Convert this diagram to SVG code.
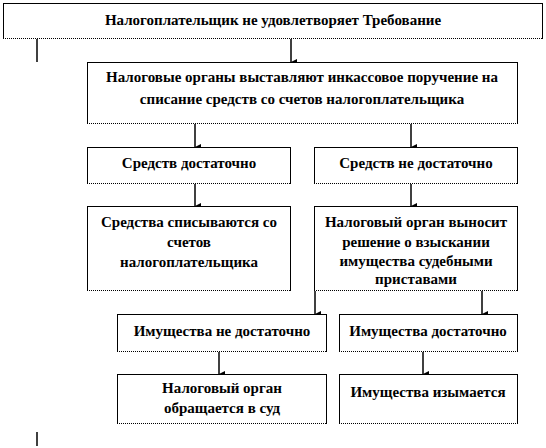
<svg xmlns="http://www.w3.org/2000/svg" width="546" height="448" viewBox="0 0 546 448">
<defs>
<style>
.box{fill:#fff;stroke:#000;stroke-width:1}
.dot{stroke:#fff;stroke-width:1.2;stroke-dasharray:1 1}
.t{font-family:"Liberation Serif","Times New Roman",serif;font-weight:bold;font-size:15px;fill:#000;text-anchor:middle}
.c{stroke:#000;stroke-width:1.5;fill:none}
.a{marker-end:url(#arr)}
</style>
<marker id="arr" markerWidth="6" markerHeight="6" refX="3" refY="6" orient="auto" markerUnits="userSpaceOnUse" viewBox="0 0 6 6">
<path d="M0,0 L6,0 L3,6 Z" fill="#000"/>
</marker>
</defs>
<g id="connectors">
<line class="c" x1="37" y1="38" x2="37" y2="62"/>
<line class="c a" x1="291" y1="38" x2="291" y2="62"/>
<line class="c a" x1="195" y1="123" x2="195" y2="147"/>
<line class="c a" x1="411" y1="123" x2="411" y2="147"/>
<line class="c a" x1="195" y1="183" x2="195" y2="206"/>
<line class="c a" x1="411" y1="183" x2="411" y2="206"/>
<line class="c a" x1="315" y1="290" x2="315" y2="314"/>
<line class="c a" x1="482" y1="290" x2="482" y2="314"/>
<line class="c a" x1="219" y1="351" x2="219" y2="374"/>
<line class="c a" x1="423" y1="351" x2="423" y2="374"/>
<line class="c" x1="37" y1="432" x2="37" y2="446"/>
</g>
<g id="n1">
<rect class="box" x="3.5" y="3.5" width="539" height="35"/>
<line class="dot" x1="4" y1="38.5" x2="542" y2="38.5"/>
<text class="t" x="273" y="25">Налогоплательщик  не удовлетворяет Требование</text>
</g>
<g id="n2">
<rect class="box" x="87.5" y="62.5" width="430" height="61"/>
<line class="dot" x1="88" y1="123.5" x2="517" y2="123.5"/>
<text class="t" x="302" y="82">Налоговые органы выставляют инкассовое поручение на</text>
<text class="t" x="302" y="104">списание средств со счетов налогоплательщика</text>
</g>
<g id="n3">
<rect class="box" x="87.5" y="147.5" width="203" height="36"/>
<line class="dot" x1="88" y1="183.5" x2="290" y2="183.5"/>
<text class="t" x="189" y="168">Средств достаточно</text>
</g>
<g id="n4">
<rect class="box" x="314.5" y="147.5" width="203" height="36"/>
<line class="dot" x1="315" y1="183.5" x2="517" y2="183.5"/>
<text class="t" x="416" y="168">Средств не достаточно</text>
</g>
<g id="n5">
<rect class="box" x="87.5" y="206.5" width="203" height="84"/>
<line class="dot" x1="88" y1="290.5" x2="290" y2="290.5"/>
<text class="t" x="189" y="227">Средства списываются со</text>
<text class="t" x="189" y="247">счетов</text>
<text class="t" x="189" y="267">налогоплательщика</text>
</g>
<g id="n6">
<rect class="box" x="314.5" y="206.5" width="203" height="84"/>
<line class="dot" x1="315" y1="290.5" x2="517" y2="290.5"/>
<text class="t" x="416" y="227">Налоговый орган выносит</text>
<text class="t" x="416" y="247">решение о взыскании</text>
<text class="t" x="416" y="266">имущества судебными</text>
<text class="t" x="416" y="284">приставами</text>
</g>
<g id="n7">
<rect class="box" x="117.5" y="314.5" width="209" height="37"/>
<line class="dot" x1="118" y1="351.5" x2="326" y2="351.5"/>
<text class="t" x="222" y="336">Имущества  не достаточно</text>
</g>
<g id="n8">
<rect class="box" x="339.5" y="314.5" width="178" height="37"/>
<line class="dot" x1="340" y1="351.5" x2="517" y2="351.5"/>
<text class="t" x="428" y="336">Имущества  достаточно</text>
</g>
<g id="n9">
<rect class="box" x="117.5" y="374.5" width="209" height="49"/>
<line class="dot" x1="118" y1="423.5" x2="326" y2="423.5"/>
<text class="t" x="222" y="393">Налоговый орган</text>
<text class="t" x="222" y="413">обращается в суд</text>
</g>
<g id="n10">
<rect class="box" x="339.5" y="374.5" width="178" height="49"/>
<line class="dot" x1="340" y1="423.5" x2="517" y2="423.5"/>
<text class="t" x="428" y="397">Имущества  изымается</text>
</g>
</svg>
